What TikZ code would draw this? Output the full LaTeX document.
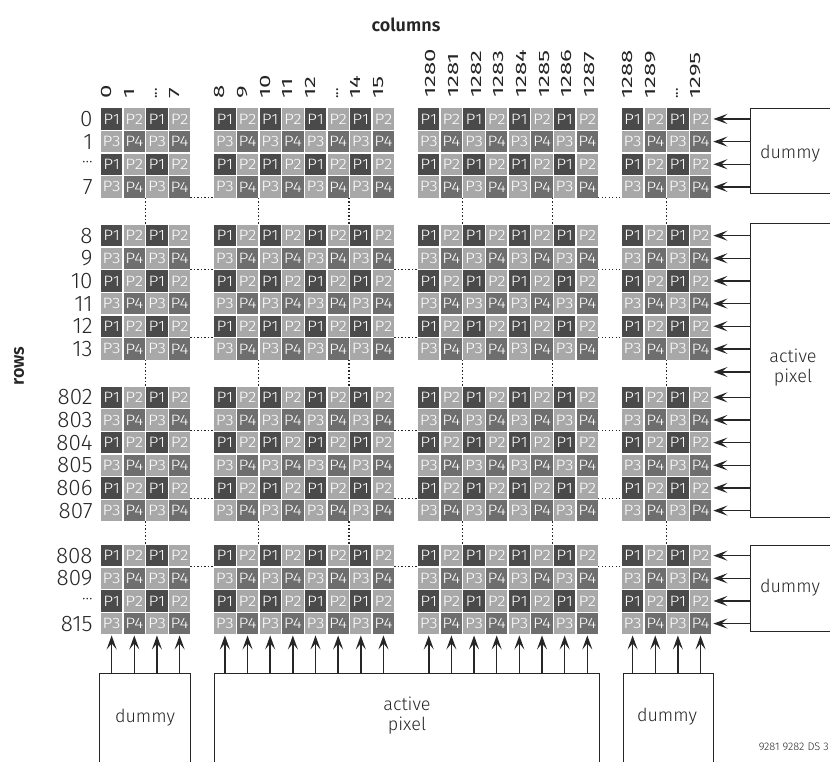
\documentclass[tikz,border=0pt]{standalone}
\usepackage{fontspec}
\setmainfont{Fira Sans}[UprightFont={* Light},BoldFont={* SemiBold}]
\newfontfamily\labfont{Fira Sans}
\usepackage{graphicx}
\usetikzlibrary{arrows.meta}
\definecolor{pA}{gray}{0.29}
\definecolor{pB}{gray}{0.66}
\definecolor{pD}{gray}{0.43}
\definecolor{ink}{gray}{0.15}
\newcommand\vdotsC{\scalebox{0.6}[1]{...}}
\newcommand\rdotsC{{\fontsize{17}{17}\selectfont ···}}
\begin{document}
\begin{tikzpicture}[x=1pt,y=-1pt,
  cellbase/.style={minimum size=21.3pt, inner sep=0pt, text=white, font=\fontsize{15}{15}\selectfont},
  cell1/.style={cellbase, fill=pA},
  cell2/.style={cellbase, fill=pB},
  cell3/.style={cellbase, fill=pB},
  cell4/.style={cellbase, fill=pD},
  rowlab/.style={anchor=east, inner sep=0pt, font=\fontsize{22.5}{22.5}\selectfont, text=ink},
  collab/.style={rotate=90, anchor=base west, inner sep=0pt, font=\labfont\fontsize{15}{15}\selectfont, text=ink},
  arr/.style={draw=ink, line width=1.5pt, -{Stealth[length=14pt,width=10pt,inset=6pt]}},
  dotline/.style={draw=ink, line width=1.2pt, dash pattern=on 1.3pt off 2.2pt},
  boxl/.style={draw=ink, line width=1.2pt, inner sep=0pt, anchor=north west},
  boxtxt/.style={font=\fontsize{18}{20}\selectfont, text=ink, align=center},
  ttl/.style={font=\bfseries\fontsize{18}{18}\selectfont, text=ink}
]
\useasboundingbox (0,0) rectangle (830,761);

% cells
\foreach \gs/\nc [count=\gi] in {0/4,5/8,14/8,23/4}{
  \foreach \ry/\nr [count=\ri] in {108.3/4,225/6,386.7/6,545/4}{
    \foreach \j in {1,...,\nc}{
      \foreach \i in {1,...,\nr}{
        \pgfmathtruncatemacro\pp{2*mod(\i-1,2)+mod(\j-1,2)+1}
        \node[cell\pp] (c-\gi-\ri-\j-\i) at ({101+(\gs+\j-1)*22.65+10.65},{\ry+(\i-1)*22.65+10.65}) {\scalebox{1.15}[1]{P\pp}};
      }}}}

% row labels
\foreach \t [count=\i] in {0,1,\rdotsC,7}
  \node[rowlab] (rl-1-\i) at ([xshift=-8pt]c-1-1-1-\i.west) {\t};
\foreach \t [count=\i] in {8,9,10,11,12,13}
  \node[rowlab] (rl-2-\i) at ([xshift=-8pt]c-1-2-1-\i.west) {\t};
\foreach \t [count=\i] in {802,803,804,805,806,807}
  \node[rowlab] (rl-3-\i) at ([xshift=-8pt]c-1-3-1-\i.west) {\t};
\foreach \t [count=\i] in {808,809,\rdotsC,815}
  \node[rowlab] (rl-4-\i) at ([xshift=-8pt]c-1-4-1-\i.west) {\t};

% column labels
\foreach \t [count=\j] in {0,1,\vdotsC,7}
  \node[collab] (cl-1-\j) at ([yshift=9pt]c-1-1-\j-1.north) {\scalebox{1.6}[1]{\t}};
\foreach \t [count=\j] in {8,9,10,11,12,\vdotsC,14,15}
  \node[collab] (cl-2-\j) at ([yshift=9pt]c-2-1-\j-1.north) {\scalebox{1.6}[1]{\t}};
\foreach \t [count=\j] in {1280,1281,1282,1283,1284,1285,1286,1287}
  \node[collab] (cl-3-\j) at ([xshift=7pt,yshift=10pt]c-3-1-\j-1.north) {\scalebox{1.6}[1]{\t}};
\foreach \t [count=\j] in {1288,1289,\vdotsC,1295}
  \node[collab] (cl-4-\j) at ([yshift=9pt]c-4-1-\j-1.north) {\scalebox{1.6}[1]{\t}};

% titles
\node[ttl] (coltitle) at (406,25) {columns};
\node[ttl, rotate=90] (rowtitle) at (19,366) {rows};
\node[font=\fontsize{11}{11}\selectfont, text=ink, anchor=east, inner sep=0pt] (docref) at (829,747) {9281 9282 DS 3};

% horizontal dotted connectors
\foreach \ga/\gb/\na in {1/2/4,3/4/8}
  \draw[dotline] (c-\ga-1-\na-4.south east) -- (c-\gb-1-1-4.south west);
\foreach \ri/\i in {2/2,2/5,3/2,3/5,4/1}{
  \foreach \ga/\gb/\na in {1/2/4,2/3/8,3/4/8}
    \draw[dotline] (c-\ga-\ri-\na-\i.south east) -- (c-\gb-\ri-1-\i.south west);
}
% vertical dotted connectors
\foreach \g/\j in {1/2,2/2,2/6,3/2,3/6,4/2}{
  \foreach \ra/\rb/\na in {1/2/4,2/3/6,3/4/6}
    \draw[dotline] (c-\g-\ra-\j-\na.south east) -- (c-\g-\rb-\j-1.north east);
}

% right boxes
\node[boxl, minimum width=100pt, minimum height=85pt] (rb1) at (750,108) {};
\node[boxl, minimum width=100pt, minimum height=294pt] (rb2) at (750,223) {};
\node[boxl, minimum width=100pt, minimum height=86pt] (rb3) at (750,545) {};
\node[boxtxt] (rt1) at (790,154) {dummy};
\node[boxtxt] (rt2) at (793,368) {active\\pixel};
\node[boxtxt] (rt3) at (790,588) {dummy};

% bottom boxes
\node[boxl, minimum width=91pt, minimum height=100pt] (bb1) at (99,673) {};
\node[boxl, minimum width=385pt, minimum height=100pt] (bb2) at (214,673) {};
\node[boxl, minimum width=90pt, minimum height=100pt] (bb3) at (623,673) {};
\node[boxtxt] (bt1) at (145,718) {dummy};
\node[boxtxt] (bt2) at (407,716) {active\\pixel};
\node[boxtxt] (bt3) at (667,717) {dummy};

% right arrows
\foreach \i in {1,...,4}
  \draw[arr, shorten >=2pt] (rb1.west |- c-4-1-4-\i.east) -- (c-4-1-4-\i.east);
\foreach \ri in {2,3}{
  \foreach \i in {1,...,6}
    \draw[arr, shorten >=2pt] (rb2.west |- c-4-\ri-4-\i.east) -- (c-4-\ri-4-\i.east);
}
\coordinate (gapend) at (713.5,372);
\draw[arr] (rb2.west |- gapend) -- (gapend);
\foreach \i in {1,...,4}
  \draw[arr, shorten >=2pt] (rb3.west |- c-4-4-4-\i.east) -- (c-4-4-4-\i.east);

% bottom arrows
\foreach \j in {1,...,4}
  \draw[arr, shorten >=1pt] (bb1.north -| c-1-4-\j-4.south) -- (c-1-4-\j-4.south);
\foreach \g in {2,3}{
  \foreach \j in {1,...,8}
    \draw[arr, shorten >=1pt] (bb2.north -| c-\g-4-\j-4.south) -- (c-\g-4-\j-4.south);
}
\foreach \j in {1,...,4}
  \draw[arr, shorten >=1pt] (bb3.north -| c-4-4-\j-4.south) -- (c-4-4-\j-4.south);
\end{tikzpicture}
\end{document}
